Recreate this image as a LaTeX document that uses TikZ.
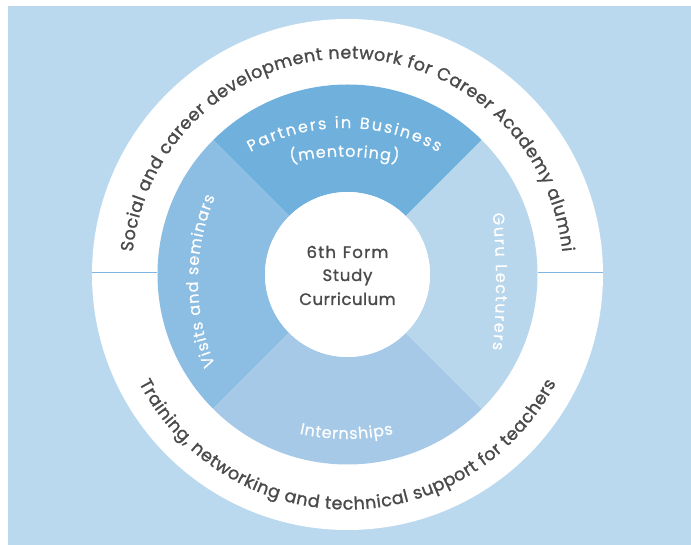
\documentclass[tikz,border=0pt]{standalone}
\usepackage{fontspec}
\setmainfont{Poppins}
\newfontfamily\darkfam{Poppins}[FakeBold=1.2]
\newfontfamily\lightfam{Poppins}[FakeBold=0.4]
\usetikzlibrary{decorations.text}

\definecolor{bgblue}{HTML}{BAD9EE}
\definecolor{secTop}{HTML}{6FB0DD}
\definecolor{secLeft}{HTML}{8CBDE2}
\definecolor{secBottom}{HTML}{A6C9E7}
\definecolor{secRight}{HTML}{B8D7ED}
\definecolor{sepblue}{HTML}{7FB5E0}
\definecolor{textgray}{HTML}{4A4A4A}

% letter-spaced text: puts a kern of #1 between the characters of #2
\makeatletter
\newcommand\tracked[2]{\@tfor\tr@c:=#2\do{\tr@c\kern#1}\unkern}
\makeatother

\newcommand\outerfont{\darkfam\fontsize{17.5}{21}\selectfont\color{textgray}}
\newcommand\innerfont{\lightfam\fontsize{16}{19}\selectfont\color{white}}

\begin{document}
\begin{tikzpicture}[x=1pt,y=1pt,
  divider/.style={draw=sepblue,line width=1.4pt},
  hubtext/.style={anchor=base,inner sep=0pt,text=textgray,font=\darkfam\fontsize{16.5}{19}\selectfont},
  outertext/.style={decorate,decoration={text along path,text align={fit to path},text={|\outerfont|#1}}},
  innertext/.style={decorate,decoration={text along path,text align={fit to path},text={|\innerfont|#1}}}]

\useasboundingbox (-347.5,-270.5) rectangle (343.5,274.5);
\fill[bgblue] (-339.5,-270.5) rectangle (343.5,268.5);

% outer white ring
\fill[white] (0,0) circle[radius=255.5];

% four programme sectors
\fill[secTop] (45:82.5) -- (45:190) arc[start angle=45,end angle=135,radius=190]
  -- (135:82.5) arc[start angle=135,end angle=45,radius=82.5] -- cycle;
\fill[secLeft] (135:82.5) -- (135:190) arc[start angle=135,end angle=225,radius=190]
  -- (225:82.5) arc[start angle=225,end angle=135,radius=82.5] -- cycle;
\fill[secBottom] (225:82.5) -- (225:190) arc[start angle=225,end angle=315,radius=190]
  -- (315:82.5) arc[start angle=315,end angle=225,radius=82.5] -- cycle;
\fill[secRight] (-45:82.5) -- (-45:190) arc[start angle=-45,end angle=45,radius=190]
  -- (45:82.5) arc[start angle=45,end angle=-45,radius=82.5] -- cycle;

% dividers across the outer ring
\coordinate (divLa) at (-255.5,2);
\coordinate (divLb) at (-190,2);
\coordinate (divRa) at (190,2);
\coordinate (divRb) at (255.5,2);
\draw[divider] (divLa) -- (divLb);
\draw[divider] (divRa) -- (divRb);

% hub
\node[circle,fill=white,minimum size=165pt,inner sep=0pt] (hub) at (0,0) {};
\node[hubtext] (hubA) at (0,16.5) {\tracked{1.2pt}{6th~Form}};
\node[hubtext] (hubB) at (0,-6.5) {\tracked{0.8pt}{Study}};
\node[hubtext] (hubC) at (0,-30.5) {\tracked{0.5pt}{Curriculum}};

% outer ring captions
\path[outertext={Social and career development network for Career Academy alumni}]
  (174:216) arc[start angle=174,end angle=6,radius=216];
\path[outertext={Training, networking and technical support for teachers}]
  (207.5:235) arc[start angle=207.5,end angle=332.5,radius=235];

% sector captions
\path[innertext={Partners in Business}]
  ([shift={(-3,-49)}]118.7:195.5) arc[start angle=118.7,end angle=61.3,radius=195.5];
\path[innertext={(mentoring)}]
  ([shift={(-3,-132.2)}]102.4:250) arc[start angle=102.4,end angle=77.6,radius=250];
\path[innertext={Guru Lecturers}]
  ([shift={(-551.5,-7)}]5.6:700) arc[start angle=5.6,end angle=-5.6,radius=700];
\path[innertext={Visits and seminars}]
  ([shift={(66.5,-6.5)}]202.9:216) arc[start angle=202.9,end angle=157.1,radius=216];
\path[innertext={Internships}]
  ([shift={(-1,49.5)}]257.3:214) arc[start angle=257.3,end angle=282.7,radius=214];
\end{tikzpicture}
\end{document}
